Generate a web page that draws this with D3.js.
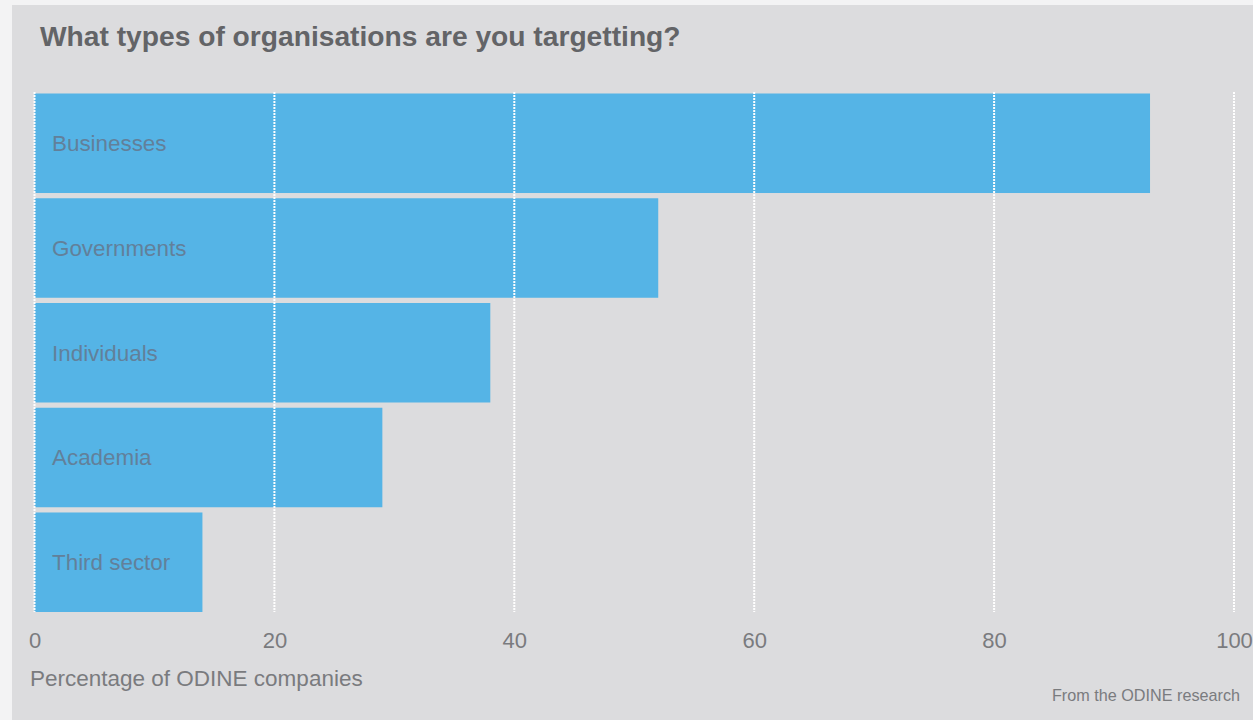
<!DOCTYPE html>
<html><head><meta charset="utf-8">
<script src="https://d3js.org/d3.v7.min.js"></script>
<style>body{margin:0;background:#f3f3f4;}svg{display:block;}</style>
</head><body>
<script>
const categories = ["Businesses","Governments","Individuals","Academia","Third sector"];
const values = [93, 52, 38, 29, 14];
const ticks = [0, 20, 40, 60, 80, 100];
const title = "What types of organisations are you targetting?";
const xTitle = "Percentage of ODINE companies";
const source = "From the ODINE research";

const W = 1253, H = 720;
const svg = d3.select("body").append("svg").attr("width", W).attr("height", H);
svg.append("rect").attr("x", 12).attr("y", 5).attr("width", W - 12).attr("height", H - 5).attr("fill", "#dcdcde");

const x = d3.scaleLinear().domain([0, 100]).range([34.5, 1234]);
const y = d3.scaleBand().domain(categories).range([93.5, 612]).paddingInner(0.05).paddingOuter(0.0);

const font = "'Liberation Sans', Arial, Helvetica, sans-serif";

svg.append("text").attr("x", 40).attr("y", 45.5).text(title)
  .attr("font-family", font).attr("font-weight", "bold").attr("font-size", 28.2).attr("fill", "#636467");

svg.append("g").selectAll("rect").data(categories).join("rect")
  .attr("x", x(0)).attr("y", d => y(d))
  .attr("width", (d, i) => x(values[i]) - x(0)).attr("height", y.bandwidth())
  .attr("fill", "#55b4e6");

svg.append("g").selectAll("line").data(ticks).join("line")
  .attr("x1", d => x(d)).attr("x2", d => x(d)).attr("y1", 92).attr("y2", 612)
  .attr("stroke", "#ffffff").attr("stroke-width", 2).attr("stroke-dasharray", "2,1");

svg.append("g").selectAll("text").data(categories).join("text")
  .attr("x", 52).attr("y", d => y(d) + y.bandwidth() / 2).attr("dy", "0.35em")
  .text(d => d).attr("font-family", font).attr("font-size", 22.4).attr("fill", "#62809a");

const axis = d3.axisBottom(x).tickValues(ticks).tickSize(0).tickPadding(0);
const ga = svg.append("g").attr("transform", "translate(0,632)").call(axis);
ga.select(".domain").remove();
ga.selectAll("text").attr("font-family", font).attr("font-size", 22).attr("fill", "#7a7b7e").attr("dy", "0.71em");

svg.append("text").attr("x", 30).attr("y", 686).text(xTitle)
  .attr("font-family", font).attr("font-size", 22.5).attr("fill", "#7a7b7e");
svg.append("text").attr("x", 1240).attr("y", 701).attr("text-anchor", "end").text(source)
  .attr("font-family", font).attr("font-size", 16.2).attr("fill", "#7a7b7e");
</script>
</body></html>
